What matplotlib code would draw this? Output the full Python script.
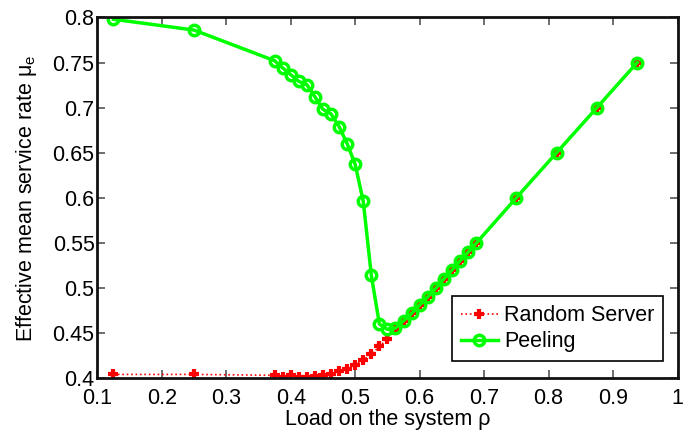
import matplotlib
matplotlib.use("Agg")
import matplotlib.pyplot as plt
import numpy as np

plt.rcParams['font.family'] = ['Liberation Sans', 'DejaVu Sans']

load = [0.125, 0.25, 0.375, 0.3875, 0.4, 0.4125, 0.425, 0.4375, 0.45, 0.4625,
        0.475, 0.4875, 0.5, 0.5125, 0.525, 0.5375, 0.55, 0.5625, 0.575, 0.5875,
        0.6, 0.6125, 0.625, 0.6375, 0.65, 0.6625, 0.675, 0.6875, 0.75, 0.8125,
        0.875, 0.9375]

peeling = [0.798, 0.786, 0.752, 0.744, 0.7365, 0.729, 0.7255, 0.712, 0.698, 0.693,
           0.679, 0.660, 0.637, 0.596, 0.514, 0.460, 0.454, 0.4555, 0.4635, 0.4717,
           0.481, 0.490, 0.4995, 0.510, 0.5197, 0.530, 0.5394, 0.5494, 0.600, 0.650,
           0.700, 0.750]

random_server = [0.404, 0.404, 0.403, 0.4015, 0.403, 0.4015, 0.4015, 0.402, 0.4035, 0.405,
                 0.4075, 0.4095, 0.4145, 0.420, 0.4265, 0.435, 0.4435, 0.4535, 0.4635, 0.4717,
                 0.481, 0.490, 0.4995, 0.510, 0.5197, 0.530, 0.5394, 0.5494, 0.600, 0.650,
                 0.700, 0.750]

xticks = [0.1, 0.2, 0.3, 0.4, 0.5, 0.6, 0.7, 0.8, 0.9, 1.0]
xticklabels = ['0.1', '0.2', '0.3', '0.4', '0.5', '0.6', '0.7', '0.8', '0.9', '1']
yticks = [0.4, 0.45, 0.5, 0.55, 0.6, 0.65, 0.7, 0.75, 0.8]
yticklabels = ['0.4', '0.45', '0.5', '0.55', '0.6', '0.65', '0.7', '0.75', '0.8']

FS = 15.5

fig = plt.figure(figsize=(6.83, 4.36), dpi=100)
ax = fig.add_axes([0.1425, 0.133, 0.8495, 0.827])

ax.plot(load, random_server, color='red', linestyle=':', linewidth=1.2,
        marker='+', markersize=7, markeredgewidth=3, label='Random Server')
ax.plot(load, peeling, color='#00ff00', linestyle='-', linewidth=2.5,
        marker='o', markersize=7.5, markerfacecolor='none', markeredgewidth=2.5,
        label='Peeling')

ax.set_xlim(0.1, 1.0)
ax.set_ylim(0.4, 0.8)
ax.set_xticks(xticks)
ax.set_xticklabels(xticklabels)
ax.set_yticks(yticks)
ax.set_yticklabels(yticklabels)
ax.tick_params(direction='in', top=True, right=True, labelsize=FS, length=6,
               width=1.2, color='#555555')
ax.tick_params(axis='x', pad=7)
ax.tick_params(axis='y', pad=2)
for s in ax.spines.values():
    s.set_linewidth(2)
    s.set_color('#111111')

ax.set_xlabel('Load on the system ρ', fontsize=FS, labelpad=0)
ax.set_ylabel('Effective mean service rate μ$_\\mathregular{e}$', fontsize=FS, labelpad=10)

leg = ax.legend(loc='lower right', fontsize=FS, frameon=True, fancybox=False,
                edgecolor='black', framealpha=1, borderpad=0.4, handlelength=1.7,
                handletextpad=0.3, labelspacing=0.25, borderaxespad=0,
                bbox_to_anchor=(0.975, 0.047))
leg.get_frame().set_linewidth(1.2)

fig.savefig('out.png', dpi=100)
